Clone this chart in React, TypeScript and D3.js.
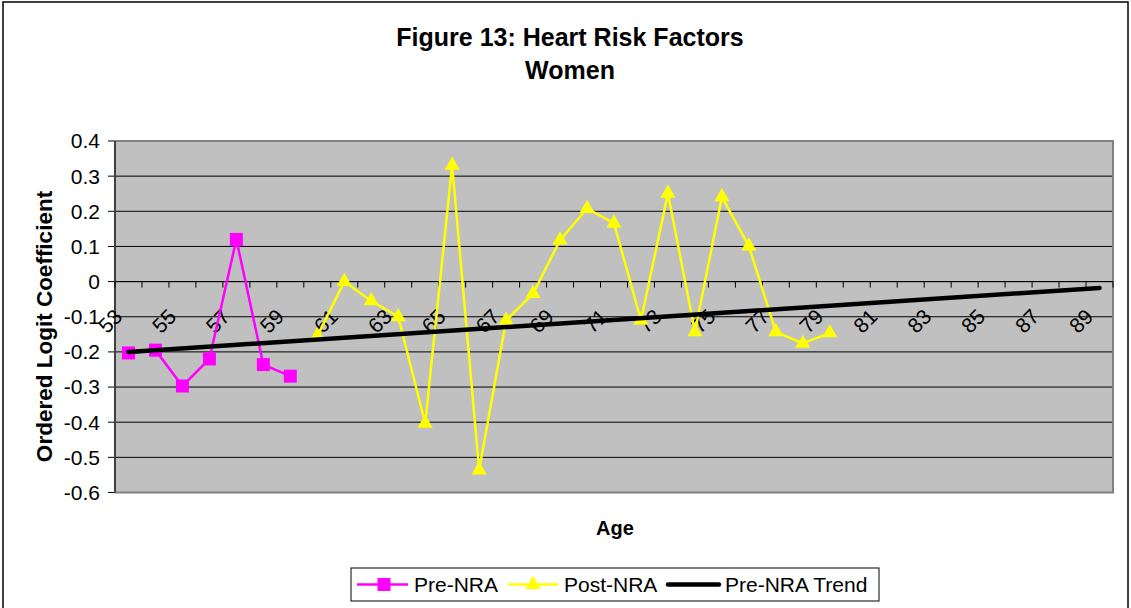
import React from "react";
import * as d3 from "d3";

const ages = [53,54,55,56,57,58,59,60,61,62,63,64,65,66,67,68,69,70,71,72,73,74,75,76,77,78,79,80,81,82,83,84,85,86,87,88,89];
const preAges = [53,54,55,56,57,58,59];
const preValues = [-0.203,-0.195,-0.297,-0.220,0.120,-0.236,-0.269];
const postAges = [60,61,62,63,64,65,66,67,68,69,70,71,72,73,74,75,76,77,78,79];
const postValues = [-0.155,0.0,-0.055,-0.10,-0.403,0.331,-0.536,-0.11,-0.034,0.118,0.208,0.166,-0.11,0.251,-0.143,0.241,0.101,-0.143,-0.176,-0.146];
const trendAges = [53,89];
const trendValues = [-0.200,-0.018];
const yTicks = [0.4,0.3,0.2,0.1,0,-0.1,-0.2,-0.3,-0.4,-0.5,-0.6];

const W = 1131, H = 608;
const L = 115, R = 1113, T = 141, B = 492.5;

export default function App() {
  const x = d3.scaleBand<number>().domain(ages).range([L, R]).padding(0);
  const cx = (a: number) => (x(a) as number) + x.bandwidth() / 2;
  const y = d3.scaleLinear().domain([-0.6, 0.4]).range([B, T]);
  const line = d3.line<[number, number]>().x(d => cx(d[0])).y(d => y(d[1]));
  const pre: [number, number][] = preAges.map((a, i) => [a, preValues[i]]);
  const post: [number, number][] = postAges.map((a, i) => [a, postValues[i]]);
  const trend: [number, number][] = trendAges.map((a, i) => [a, trendValues[i]]);
  const sq = d3.symbol(d3.symbolSquare, 169)() as string;
  const tri = d3.symbol(d3.symbolTriangle, 100)() as string;
  const y0 = y(0);
  const font = "Arial, 'Liberation Sans', sans-serif";
  const boundaries = d3.range(ages.length + 1).map(k => L + k * x.bandwidth());

  return (
    <svg width={W} height={H} style={{ position: "absolute", left: 0, top: 0 }} fontFamily={font}>
      <rect x={0} y={0} width={W} height={H} fill="#fff" />
      <rect x={3} y={2} width={1125} height={640} fill="#fff" stroke="#000" strokeWidth={1.5} />
      <text x={570} y={46} textAnchor="middle" fontSize={25} fontWeight="bold">Figure 13: Heart Risk Factors</text>
      <text x={570} y={79} textAnchor="middle" fontSize={25} fontWeight="bold">Women</text>

      <rect x={L} y={T} width={R - L} height={B - T} fill="#C0C0C0" />
      {yTicks.map(t => (
        <g key={t}>
          <line x1={L} x2={R} y1={y(t)} y2={y(t)} stroke="#000" strokeWidth={1} />
          <line x1={L - 7} x2={L} y1={y(t)} y2={y(t)} stroke="#000" strokeWidth={1} />
          <text x={100} y={y(t)} dy="0.35em" textAnchor="end" fontSize={21}>{t === 0 ? "0" : t.toFixed(1)}</text>
        </g>
      ))}
      <rect x={L} y={T} width={R - L} height={B - T} fill="none" stroke="#808080" strokeWidth={2} />
      <line x1={L} x2={L} y1={T} y2={B} stroke="#000" strokeWidth={1} />
      <line x1={L} x2={R} y1={y0} y2={y0} stroke="#000" strokeWidth={1} />
      {boundaries.map((bx, k) => (
        <line key={k} x1={bx} x2={bx} y1={y0} y2={y0 + 6} stroke="#000" strokeWidth={1} />
      ))}
      {ages.filter((_, i) => i % 2 === 0).map(a => (
        <text key={a} transform={`translate(${cx(a) - 18.5},${321}) rotate(-45)`} textAnchor="middle" dy="0.35em" fontSize={21}>{a}</text>
      ))}

      <path d={line(pre) as string} fill="none" stroke="#FF00FF" strokeWidth={2.5} />
      {pre.map(d => (
        <path key={d[0]} d={sq} transform={`translate(${cx(d[0])},${y(d[1])})`} fill="#FF00FF" />
      ))}
      <path d={line(post) as string} fill="none" stroke="#FFFF00" strokeWidth={2.5} />
      {post.map(d => (
        <path key={d[0]} d={tri} transform={`translate(${cx(d[0])},${y(d[1])})`} fill="#FFFF00" />
      ))}
      <path d={line(trend) as string} fill="none" stroke="#000" strokeWidth={4.5} strokeLinecap="round" />

      <text transform={`translate(44,${(190 + 463) / 2}) rotate(-90)`} textAnchor="middle" dy="0.35em" fontSize={22.5} fontWeight="bold">Ordered Logit Coefficient</text>
      <text x={615} y={535} textAnchor="middle" fontSize={20} fontWeight="bold">Age</text>

      <rect x={351} y={568} width={528} height={33} fill="#fff" stroke="#000" strokeWidth={1} />
      <line x1={357} x2={408} y1={584.5} y2={584.5} stroke="#FF00FF" strokeWidth={2.5} />
      <path d={sq} transform="translate(384,584.5)" fill="#FF00FF" />
      <text x={414} y={584.5} dy="0.35em" fontSize={21}>Pre-NRA</text>
      <line x1={508} x2={558} y1={584.5} y2={584.5} stroke="#FFFF00" strokeWidth={2.5} />
      <path d={tri} transform="translate(533,584.5)" fill="#FFFF00" />
      <text x={564} y={584.5} dy="0.35em" fontSize={21}>Post-NRA</text>
      <line x1={668} x2={719} y1={584.5} y2={584.5} stroke="#000" strokeWidth={4.5} strokeLinecap="round" />
      <text x={725} y={584.5} dy="0.35em" fontSize={21}>Pre-NRA Trend</text>
    </svg>
  );
}
